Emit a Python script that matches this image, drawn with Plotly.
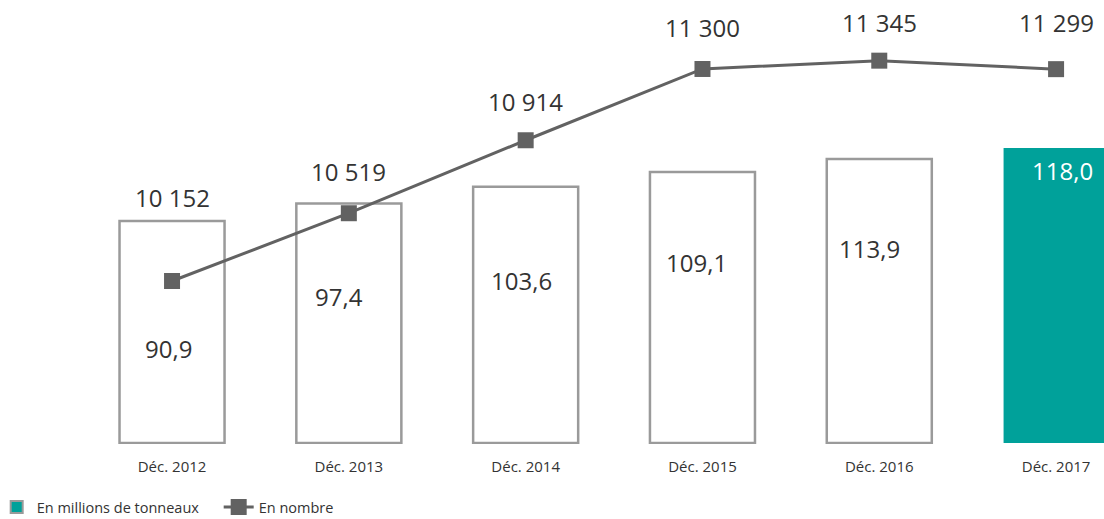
import plotly.graph_objects as go

# Data
categories = ["Déc. 2012", "Déc. 2013", "Déc. 2014", "Déc. 2015", "Déc. 2016", "Déc. 2017"]
tonnage_millions = [90.9, 97.4, 103.6, 109.1, 113.9, 118.0]
fleet_count = [10152, 10519, 10914, 11300, 11345, 11299]

# Styling
TEAL = "#00a19a"
OUTLINE = "#9a9a9a"
LINE_GREY = "#626262"
TEXT = "#333333"
FONT = "Open Sans"
BAR_BASE = 8.4
bar_fill = ["white"] * 5 + [TEAL]
bar_line_w = [2.5] * 5 + [0]
bar_label_drop = [128, 93, 94, 90, 89, 22]   # px below bar top
bar_label_dx = [-4, -10, -4, -6, -10, 6]
line_label_rise = [84, 42, 39, 41, 38, 47]   # px above marker


def fr_decimal(v):
    return f"{v:.1f}".replace(".", ",")


def fr_int(n):
    return f"{n:,}".replace(",", " ")


fig = go.Figure()

# bars (tonnage)
fig.add_trace(go.Bar(
    x=categories,
    y=[v - BAR_BASE for v in tonnage_millions],
    base=BAR_BASE,
    width=0.594,
    marker=dict(color=bar_fill, line=dict(color=OUTLINE, width=bar_line_w)),
    showlegend=False,
    hoverinfo="skip",
))
# legend entry for the bars
fig.add_trace(go.Bar(
    x=[None], y=[None],
    name="En millions de tonneaux",
    marker=dict(color=TEAL, line=dict(color=OUTLINE, width=2)),
))
# line (number of vessels)
fig.add_trace(go.Scatter(
    x=categories,
    y=fleet_count,
    yaxis="y2",
    mode="lines+markers",
    name="En nombre",
    line=dict(color=LINE_GREY, width=3),
    marker=dict(symbol="square", size=16, color=LINE_GREY),
))

annotations = []
for i, cat in enumerate(categories):
    annotations.append(dict(
        x=cat, y=tonnage_millions[i], xref="x", yref="y",
        text=fr_decimal(tonnage_millions[i]), showarrow=False,
        yshift=-bar_label_drop[i], xshift=bar_label_dx[i],
        font=dict(family=FONT, size=24, color="white" if i == 5 else TEXT),
    ))
    annotations.append(dict(
        x=cat, y=fleet_count[i], xref="x", yref="y2",
        text=fr_int(fleet_count[i]), showarrow=False,
        yshift=line_label_rise[i],
        font=dict(family=FONT, size=24, color=TEXT),
    ))

fig.update_layout(
    width=1104, height=519,
    margin=dict(l=0, r=0, t=0, b=75, autoexpand=False),
    paper_bgcolor="white", plot_bgcolor="white",
    font=dict(family=FONT, color=TEXT),
    bargap=0.4,
    xaxis=dict(
        type="category", range=[-0.973, 5.271], automargin=False,
        showgrid=False, showline=False, zeroline=False, ticks="",
        tickfont=dict(size=15, color=TEXT), ticklabelstandoff=12,
    ),
    yaxis=dict(range=[8.0, 173.05], visible=False, showgrid=False),
    yaxis2=dict(range=[9269.5, 11673.4], overlaying="y", side="right",
                visible=False, showgrid=False),
    legend=dict(orientation="h", x=-0.003, xanchor="left", y=-0.142, yanchor="middle",
                font=dict(size=14.5, color=TEXT), traceorder="normal",
                entrywidth=177, bgcolor="rgba(0,0,0,0)"),
    annotations=annotations,
    showlegend=True,
)

fig.write_html("out.html")
